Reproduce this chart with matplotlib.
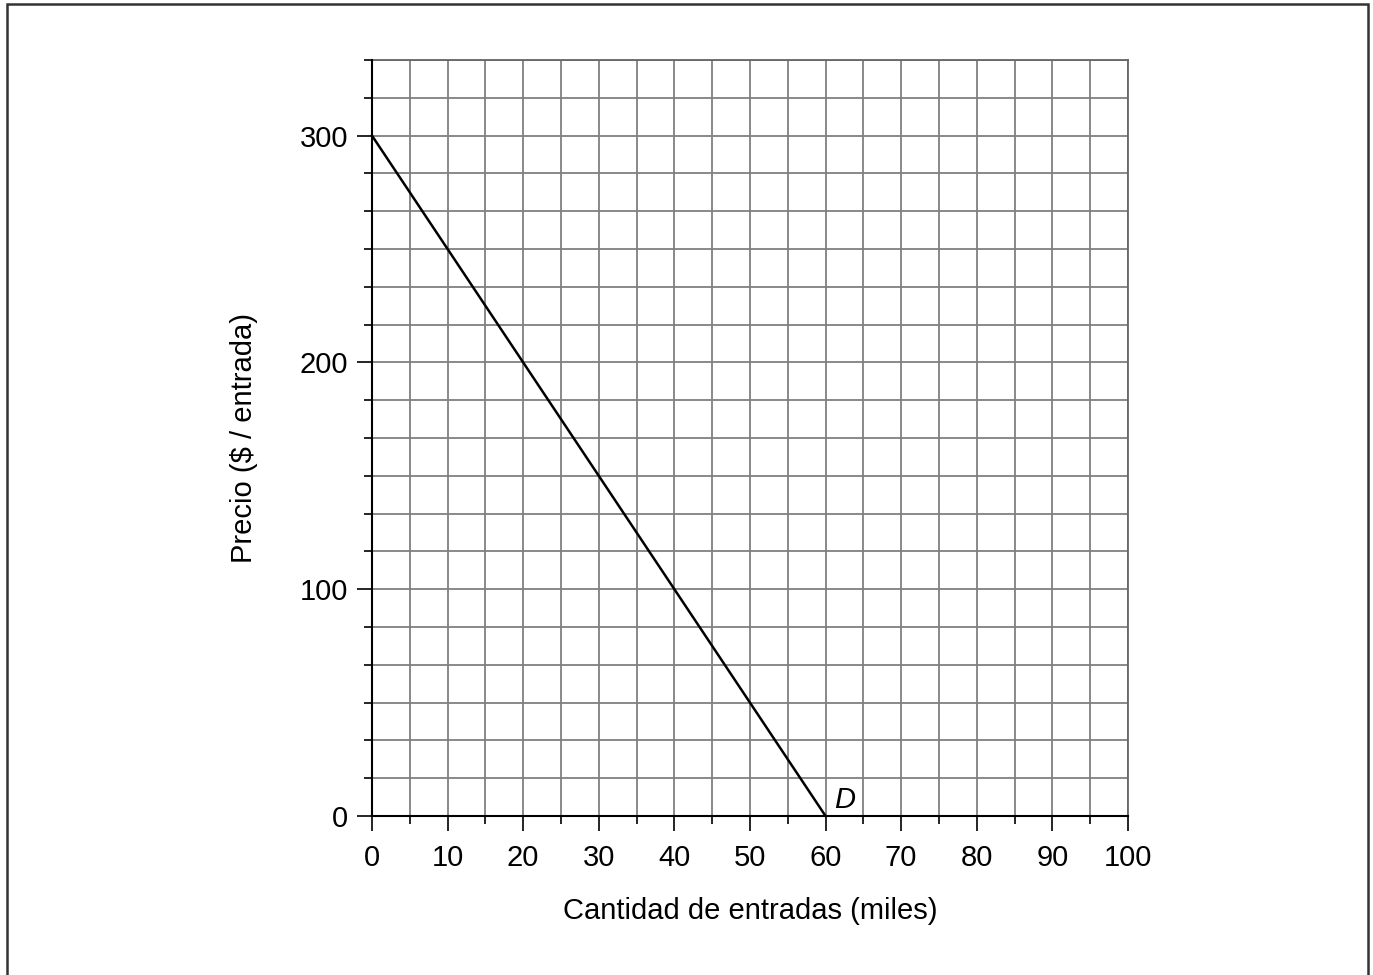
import numpy as np
import matplotlib.pyplot as plt
from matplotlib.patches import Rectangle
from matplotlib.ticker import MultipleLocator

plt.rcParams['font.family'] = ['Liberation Sans', 'DejaVu Sans']

# demand curve endpoints
cantidad = [0, 60]
precio = [300, 0]
x_ticks = [0, 10, 20, 30, 40, 50, 60, 70, 80, 90, 100]
y_ticks = [0, 100, 200, 300]
curve_label = "D"


def main():
    fig = plt.figure(figsize=(13.73, 9.75), dpi=100)
    ax = fig.add_axes([0.2709, 0.1631, 0.5506, 0.7754])

    # outer frame (bottom edge runs off the image)
    fig.patches.append(Rectangle((7/1373, -0.05), (1368-7)/1373, 1.05 - 4/975,
                                 transform=fig.transFigure, fill=False,
                                 edgecolor="#333333", linewidth=1.8))

    ax.set_xlim(0, 100)
    ax.set_ylim(0, 2000/6)
    ax.xaxis.set_major_locator(MultipleLocator(10))
    ax.xaxis.set_minor_locator(MultipleLocator(5))
    ax.set_yticks(y_ticks)
    ax.yaxis.set_minor_locator(MultipleLocator(100/6))
    ax.set_xticks(x_ticks)

    ax.grid(which="both", color="#808080", linewidth=1.3)
    ax.set_axisbelow(True)
    for s in ["top", "right"]:
        ax.spines[s].set_color("#666666")
        ax.spines[s].set_linewidth(1.3)
    for s in ["left", "bottom"]:
        ax.spines[s].set_color("black")
        ax.spines[s].set_linewidth(1.5)
        ax.spines[s].set_zorder(3)

    ax.tick_params(which="major", length=11, width=1.2, labelsize=21)
    ax.tick_params(axis="x", which="major", pad=9)
    ax.tick_params(axis="y", which="major", pad=6)
    ax.tick_params(which="minor", length=5.5, width=1.2)

    ax.plot(cantidad, precio, color="black", linewidth=1.8, zorder=4, clip_on=False)
    ax.text(cantidad[1] + 1.2, precio[1] + 1, curve_label, fontsize=21,
            style="italic", ha="left", va="bottom")

    ax.set_xlabel("Cantidad de entradas (miles)", fontsize=21, labelpad=18)
    ax.set_ylabel("Precio ($ / entrada)", fontsize=21, labelpad=30)

    fig.savefig("out.png", dpi=100)


main()
